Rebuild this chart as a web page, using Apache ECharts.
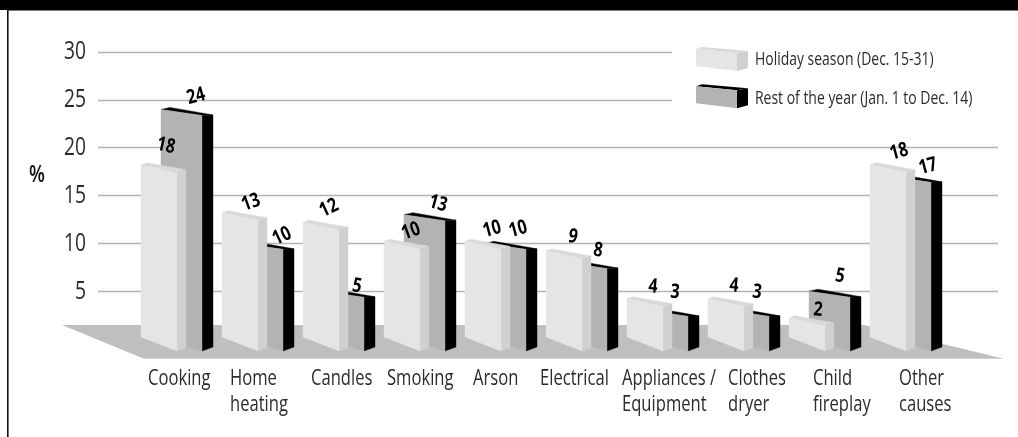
<!DOCTYPE html>
<html>
<head>
<meta charset="utf-8">
<style>html,body{margin:0;padding:0;background:#fff}#c{width:1018px;height:437px}</style>
<script src="https://cdn.jsdelivr.net/npm/echarts@6/dist/echarts.min.js"></script>
</head>
<body>
<div id="c"></div>
<script>
// Home fire causes: share of fires by season
const categories = ['Cooking', 'Home\nheating', 'Candles', 'Smoking', 'Arson', 'Electrical',
  'Appliances /\nEquipment', 'Clothes\ndryer', 'Child\nfireplay', 'Other\ncauses'];
const holiday = [18, 13, 12, 10, 10, 9, 4, 4, 2, 18];
const restOfYear = [24, 10, 5, 13, 10, 8, 3, 3, 5, 17];
const yTicks = [5, 10, 15, 20, 25, 30];
const holidayName = 'Holiday season (Dec. 15-31)';
const restName = 'Rest of the year (Jan. 1 to Dec. 14)';

// Hand placement of the tilted value labels, relative to each group centre and value height
const holidayNudge = [[-11,-21],[-7,-12],[-10,-16],[-9,-12],[-9,-14],[-9,-16],[-10,-14],[-10,-15],[-7,-10],[-7,-15]];
const restNudge = [[19,-13],[24,-7],[18,-5],[18,-11],[17,-14],[16,-12],[12,-18],[13,-18],[15,-15],[22,-10]];
const holidayTilt = [-12, 20, 25, 20, 15, -10, -5, -5, -5, 15];
const restTilt = [15, 25, -10, -15, 15, -8, -5, -8, -10, 15];
// Left edge of each category caption relative to its group centre
const captionShift = [-29, -28, -28, -33, -28, -42, -41, -16, -12, -7];

const FONT = '"Open Sans",sans-serif';
const INK = '#2b2b2b';
const NARROW = 0.79; // the type is a condensed cut, so glyphs are squeezed horizontally

function poly(points, fill) {
  return { type: 'polygon', shape: { points }, style: { fill, stroke: fill, lineWidth: 0.4 } };
}
function valueLabel(text, x, y, deg) {
  return {
    type: 'text', x, y, rotation: deg * Math.PI / 180, scaleX: 0.8,
    style: { text: String(text), x: 0, y: 0, align: 'center', verticalAlign: 'middle',
      font: '700 20px ' + FONT, fill: '#000' }
  };
}
function renderHoliday(params, api) {
  const i = api.value(0), v = api.value(1);
  const p = api.coord([i, v]), c = p[0], y = p[1], b = api.coord([i, 0])[1];
  return { type: 'group', children: [
    poly([[c-36, y-2], [c-30, y-4], [c+9, y+3], [c, y+6]], '#d9d9d9'),
    poly([[c, y+6], [c+9, y+3], [c+9, b+9], [c, b+12]], '#d0d0d0'),
    poly([[c-36, y-2], [c, y+6], [c, b+12], [c-36, b-2]], '#e5e5e5'),
    valueLabel(v, c + holidayNudge[i][0], y + holidayNudge[i][1], holidayTilt[i])
  ]};
}
function renderRest(params, api) {
  const i = api.value(0), v = api.value(1);
  const p = api.coord([i, v]), c = p[0], y = p[1], b = api.coord([i, 0])[1];
  return { type: 'group', children: [
    poly([[c-16, y], [c-7, y-2], [c+36, y+5.5], [c+25, y+6]], '#000'),
    poly([[c+25, y+6], [c+36, y+5.5], [c+36, b+8], [c+25, b+12]], '#000'),
    poly([[c-16, y], [c+25, y+6], [c+25, b+12], [c-16, b]], '#b3b3b3'),
    valueLabel(v, c + restNudge[i][0], y + restNudge[i][1], restTilt[i])
  ]};
}
function renderCaption(params, api) {
  const i = api.value(0), c = api.coord([i, 0]);
  return {
    type: 'text', x: c[0] + captionShift[i], y: 366, scaleX: NARROW,
    style: { text: categories[i], x: 0, y: 0, align: 'left', verticalAlign: 'top',
      font: '21px ' + FONT, lineHeight: 26, fill: INK }
  };
}
function renderTick(params, api) {
  const v = api.value(1), p = api.coord([0, v]);
  return {
    type: 'text', x: p[0] - 12, y: p[1], scaleX: 0.74,
    style: { text: String(v), x: 0, y: 0, align: 'right', verticalAlign: 'middle',
      font: '26px ' + FONT, fill: INK }
  };
}
function swatch(top, front, side, y0) {
  return [
    { type: 'polygon', z: 5, shape: { points: [[696, y0+2], [702, y0], [748, y0+4], [737, y0+6]] }, style: { fill: top } },
    { type: 'polygon', z: 5, shape: { points: [[737, y0+6], [748, y0+4], [748, y0+21], [737, y0+24]] }, style: { fill: side } },
    { type: 'polygon', z: 5, shape: { points: [[696, y0+2], [737, y0+6], [737, y0+24], [696, y0+19]] }, style: { fill: front } }
  ];
}
function legendText(text, y) {
  return { type: 'text', z: 6, x: 755, y, scaleX: 0.775,
    style: { text, align: 'left', verticalAlign: 'middle', font: '18px ' + FONT, fill: INK } };
}

const chart = echarts.init(document.getElementById('c'), null, { renderer: 'canvas' });
chart.setOption({
  animation: false,
  backgroundColor: '#fff',
  grid: [
    { left: 98, top: 52, width: 900, height: 287 },
    { left: 136.5, top: 52, width: 810, height: 287 }
  ],
  xAxis: [
    { type: 'value', gridIndex: 0, min: 0, max: 1, show: false },
    { type: 'category', gridIndex: 1, data: categories, show: false }
  ],
  yAxis: [
    {
      type: 'value', gridIndex: 0, min: 0, max: 30, interval: 5,
      axisLine: { show: false }, axisTick: { show: false }, axisLabel: { show: false },
      splitLine: { show: true, showMinLine: false, lineStyle: { color: '#b3b3b3', width: 1.4 } }
    },
    { type: 'value', gridIndex: 1, min: 0, max: 30, interval: 5, show: false }
  ],
  graphic: { elements: [
    { type: 'rect', z: 1, shape: { x: 672, y: 20, width: 346, height: 100 }, style: { fill: '#fff' } },
    { type: 'polygon', z: 1, shape: { points: [[62, 325], [864, 325], [1004, 358.7], [144, 358.7]] }, style: { fill: '#bfbfbf' } },
    { type: 'rect', z: 10, shape: { x: 0, y: 0, width: 1018, height: 10 }, style: { fill: '#000' } },
    { type: 'rect', z: 9, shape: { x: 7, y: 10, width: 1011, height: 1 }, style: { fill: '#777' } },
    { type: 'rect', z: 9, shape: { x: 7, y: 0, width: 1.6, height: 437 }, style: { fill: '#111' } },
    { type: 'text', z: 6, x: 37, y: 175, scaleX: 0.8, style: { text: '%', align: 'center', verticalAlign: 'middle', font: '600 23px ' + FONT, fill: '#111' } },
    ...swatch('#d9d9d9', '#e5e5e5', '#d0d0d0', 47),
    ...swatch('#000', '#b3b3b3', '#000', 84.3),
    legendText(holidayName, 60),
    legendText(restName, 99)
  ]},
  series: [
    { type: 'custom', name: restName, xAxisIndex: 1, yAxisIndex: 1, z: 2, clip: false,
      renderItem: renderRest, encode: { x: 0, y: 1 }, data: restOfYear.map((v, i) => [i, v]) },
    { type: 'custom', name: holidayName, xAxisIndex: 1, yAxisIndex: 1, z: 3, clip: false,
      renderItem: renderHoliday, encode: { x: 0, y: 1 }, data: holiday.map((v, i) => [i, v]) },
    { type: 'custom', name: 'captions', xAxisIndex: 1, yAxisIndex: 1, z: 4, clip: false, silent: true,
      renderItem: renderCaption, encode: { x: 0 }, data: categories.map((c, i) => [i, 0]) },
    { type: 'custom', name: 'ticks', xAxisIndex: 0, yAxisIndex: 0, z: 4, clip: false, silent: true,
      renderItem: renderTick, encode: { y: 1 }, data: yTicks.map(v => [0, v]) }
  ]
});
</script>
</body>
</html>
